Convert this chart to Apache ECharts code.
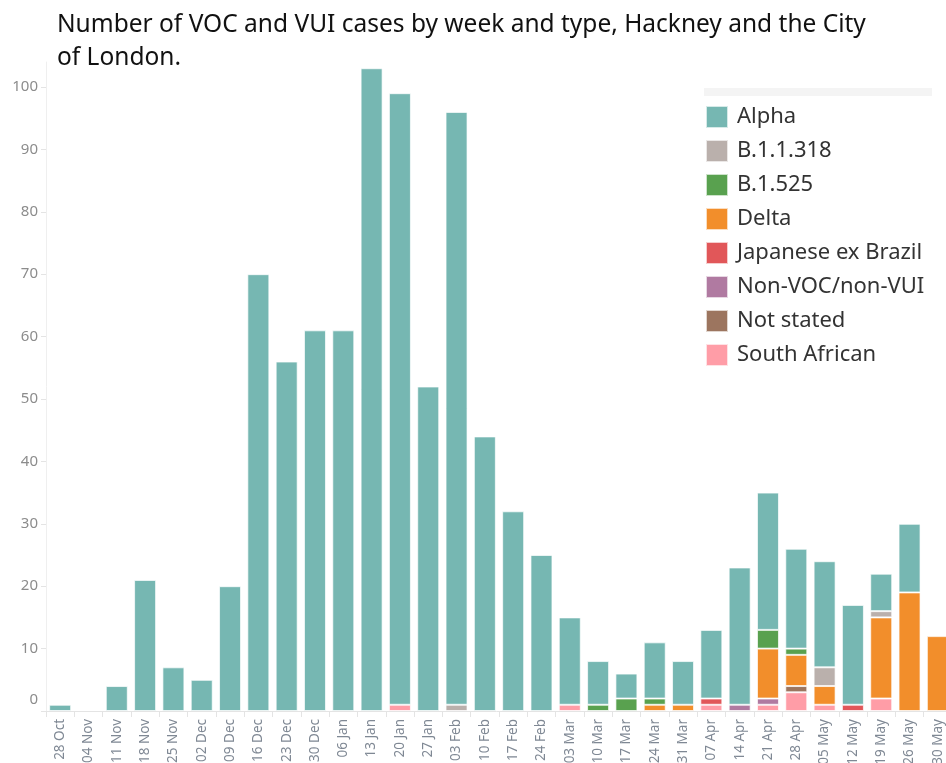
<!DOCTYPE html>
<html><head><meta charset="utf-8">
<script src="https://cdn.jsdelivr.net/npm/echarts@6/dist/echarts.min.js"></script>
<style>html,body{margin:0;padding:0;background:#fff}#c{width:946px;height:763px}</style>
</head><body><div id="c"></div>
<script>
const categories = ['28 Oct','04 Nov','11 Nov','18 Nov','25 Nov','02 Dec','09 Dec','16 Dec','23 Dec','30 Dec','06 Jan','13 Jan','20 Jan','27 Jan','03 Feb','10 Feb','17 Feb','24 Feb','03 Mar','10 Mar','17 Mar','24 Mar','31 Mar','07 Apr','14 Apr','21 Apr','28 Apr','05 May','12 May','19 May','26 May','30 May'];
const southAfrican = [0,0,0,0,0,0,0,0,0,0,0,0,1,0,0,0,0,0,1,0,0,0,0,1,0,1,3,1,0,2,0,0];
const notStated    = [0,0,0,0,0,0,0,0,0,0,0,0,0,0,0,0,0,0,0,0,0,0,0,0,0,0,1,0,0,0,0,0];
const nonVocVui    = [0,0,0,0,0,0,0,0,0,0,0,0,0,0,0,0,0,0,0,0,0,0,0,0,1,1,0,0,0,0,0,0];
const japaneseExBrazil = [0,0,0,0,0,0,0,0,0,0,0,0,0,0,0,0,0,0,0,0,0,0,0,1,0,0,0,0,1,0,0,0];
const delta        = [0,0,0,0,0,0,0,0,0,0,0,0,0,0,0,0,0,0,0,0,0,1,1,0,0,8,5,3,0,13,19,12];
const b1525        = [0,0,0,0,0,0,0,0,0,0,0,0,0,0,0,0,0,0,0,1,2,1,0,0,0,3,1,0,0,0,0,0];
const b11318       = [0,0,0,0,0,0,0,0,0,0,0,0,0,0,1,0,0,0,0,0,0,0,0,0,0,0,0,3,0,1,0,0];
const alpha        = [1,0,4,21,7,5,20,70,56,61,61,103,98,52,95,44,32,25,14,7,4,9,7,11,22,22,16,17,16,6,11,0];
const yTicks = [0,10,20,30,40,50,60,70,80,90,100];

const seriesDefs = [
  ['South African', southAfrican, '#ff9da7'],
  ['Not stated', notStated, '#9c755f'],
  ['Non-VOC/non-VUI', nonVocVui, '#b07aa1'],
  ['Japanese ex Brazil', japaneseExBrazil, '#e15759'],
  ['Delta', delta, '#f28e2b'],
  ['B.1.525', b1525, '#59a14f'],
  ['B.1.1.318', b11318, '#bab0ac'],
  ['Alpha', alpha, '#76b7b2']
];
const legendOrder = ['Alpha','B.1.1.318','B.1.525','Delta','Japanese ex Brazil','Non-VOC/non-VUI','Not stated','South African'];

const chart = echarts.init(document.getElementById('c'));
chart.setOption({
  animation: false,
  backgroundColor: '#fff',
  title: {
    text: 'Number of VOC and VUI cases by week and type, Hackney and the City\nof London.',
    left: 52, top: 4,
    textStyle: {fontFamily: 'Noto Sans', fontSize: 24.5, fontWeight: 'normal', color: '#111', lineHeight: 33}
  },
  legend: {
    data: legendOrder,
    orient: 'vertical', left: 700, top: 100,
    itemWidth: 22, itemHeight: 22, itemGap: 10, icon: 'rect',
    textStyle: {fontFamily: 'Noto Sans', fontSize: 22, lineHeight: 22, color: '#333', padding: [0,0,0,4]}
  },
  graphic: [{type: 'rect', shape: {x: 704, y: 88, width: 228, height: 8}, style: {fill: '#f4f4f4'}, z: 10}],
  grid: {left: 46, top: 62, bottom: 52, width: 906, outerBoundsMode: 'none', containLabel: false},
  xAxis: {
    type: 'category', data: categories,
    axisLine: {lineStyle: {color: '#e4e4e4'}},
    axisTick: {show: true, length: 6, lineStyle: {color: '#e4e4e4'}},
    axisLabel: {rotate: 90, fontFamily: 'Noto Sans', fontSize: 13.5, color: '#7f8894', margin: 8}
  },
  yAxis: {
    type: 'value', min: 0, max: 104, interval: 10,
    splitLine: {show: false},
    axisLine: {show: true, lineStyle: {color: '#efefef'}},
    axisTick: {show: true, length: 5, lineStyle: {color: '#e4e4e4'}},
    axisLabel: {
      showMaxLabel: false, fontFamily: 'Noto Sans', fontSize: 15, color: '#8c8c8c', margin: 8,
      formatter: v => yTicks.includes(v) ? (v === 0 ? '{z|0}' : String(v)) : '',
      rich: {z: {fontFamily: 'Noto Sans', fontSize: 15, color: '#8c8c8c', padding: [0,0,22,0]}}
    }
  },
  series: seriesDefs.map(([name, vals, color]) => ({
    name, type: 'bar', stack: 'total', barWidth: 22,
    data: vals.map(v => v === 0 ? '-' : v),
    itemStyle: {color, borderColor: 'rgba(255,255,255,0.7)', borderWidth: 1}
  }))
});
</script></body></html>
